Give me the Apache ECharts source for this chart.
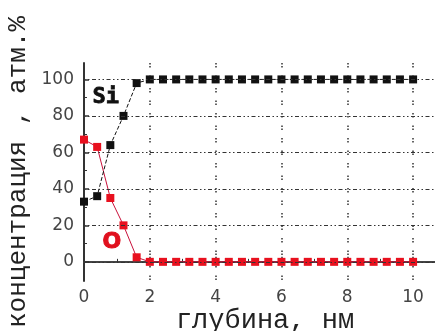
<!DOCTYPE html>
<html>
<head>
<meta charset="utf-8">
<script src="https://cdn.jsdelivr.net/npm/echarts@6/dist/echarts.min.js"></script>
<style>
  html, body { margin: 0; padding: 0; background: #fff; }
  #chart { width: 435px; height: 331px; }
</style>
</head>
<body>
<div id="chart"></div>
<script>
// depth, nm
const depth = [0, 0.4, 0.8, 1.2, 1.6, 2, 2.4, 2.8, 3.2, 3.6, 4, 4.4, 4.8, 5.2, 5.6, 6, 6.4, 6.8, 7.2, 7.6, 8, 8.4, 8.8, 9.2, 9.6, 10];
// concentration, at.%
const si = [33, 36, 64, 80, 98, 100, 100, 100, 100, 100, 100, 100, 100, 100, 100, 100, 100, 100, 100, 100, 100, 100, 100, 100, 100, 100];
const oxy = [67, 63, 35, 20, 2.5, 0, 0, 0, 0, 0, 0, 0, 0, 0, 0, 0, 0, 0, 0, 0, 0, 0, 0, 0, 0, 0];
const yTicks = [0, 20, 40, 60, 80, 100];
const yMinor = [10, 30, 50, 70, 90];

const chart = echarts.init(document.getElementById('chart'));

const gridDash = { color: '#333', width: 1.2, type: [1.5, 2.5, 1.5, 2.5, 4, 2.5] };
const labelFont = { fontFamily: 'DejaVu Sans', fontSize: 17, color: '#444' };

const option = {
    animation: false,
    grid: { left: 84, right: -11, top: 63, bottom: 50, outerBoundsMode: 'none', containLabel: false },
    xAxis: [
        {
            type: 'value',
            min: 0,
            max: 11,
            interval: 2,
            axisLine: { show: true, lineStyle: { color: '#333', width: 2 } },
            axisTick: { inside: true, length: 5, lineStyle: { color: '#333', width: 1.5 } },
            minorTick: { show: true, splitNumber: 2, length: 3, lineStyle: { color: '#333' } },
            axisLabel: { ...labelFont, margin: 8 },
            splitLine: { show: true, lineStyle: { color: '#333', width: 1.5, type: [1.5, 1.5, 1.5, 8] } },
            name: 'глубина, нм',
            nameLocation: 'middle',
            nameGap: 26,
            nameMoveOverlap: false,
            nameTextStyle: { fontFamily: 'Liberation Mono', fontSize: 27, color: '#222', verticalAlign: 'top', lineHeight: 27 }
        },
        {
            type: 'value', position: 'top', min: 0, max: 11,
            axisLine: { show: true, lineStyle: { color: '#444', width: 2 } },
            axisTick: { show: false }, axisLabel: { show: false }, splitLine: { show: false }
        }
    ],
    yAxis: [
        {
            type: 'value',
            min: -10.5,
            max: 109,
            axisLine: { show: true, lineStyle: { color: '#333', width: 2 } },
            axisTick: { inside: true, length: 5, customValues: yTicks, lineStyle: { color: '#333', width: 1.5 } },
            axisLabel: { ...labelFont, margin: 10, customValues: yTicks },
            splitLine: { show: false },
            name: 'концентрация , атм.%',
            nameLocation: 'middle',
            nameGap: 45,
            nameRotate: 90,
            nameTextStyle: { fontFamily: 'Liberation Mono', fontSize: 26, color: '#222' }
        },
        {
            type: 'value', min: -10.5, max: 109, position: 'left',
            axisLine: { show: false },
            axisTick: { inside: true, length: 3, customValues: yMinor, lineStyle: { color: '#333' } },
            axisLabel: { show: false }, splitLine: { show: false }
        }
    ],
    series: [
        {
            name: 'grid',
            type: 'line',
            data: [],
            silent: true,
            markLine: {
                symbol: 'none',
                silent: true,
                label: { show: false },
                lineStyle: gridDash,
                data: yTicks.map(v => ({ yAxis: v }))
            }
        },
        {
            name: 'O',
            type: 'line',
            data: depth.map((d, i) => [d, oxy[i]]),
            symbol: 'rect',
            symbolSize: 8,
            itemStyle: { color: '#e8101e' },
            lineStyle: { color: '#c8103a', width: 1 },
            z: 3
        },
        {
            name: 'Si',
            type: 'line',
            data: depth.map((d, i) => [d, si[i]]),
            symbol: 'rect',
            symbolSize: 8,
            itemStyle: { color: '#111' },
            lineStyle: { color: '#111', width: 1, type: [4, 2] },
            z: 4
        }
    ],
    graphic: [
        {
            type: 'text', left: 92, top: 86,
            style: { text: 'Si', fontFamily: 'DejaVu Sans Mono', fontWeight: 'bold', fontSize: 22, fill: '#111', stroke: '#111', lineWidth: 0.8 }
        },
        {
            type: 'text', left: 102, top: 231,
            style: { text: 'O', fontFamily: 'DejaVu Sans', fontWeight: 'bold', fontSize: 22, fill: '#e0101e', stroke: '#e0101e', lineWidth: 1 }
        }
    ]
};
chart.setOption(option);
</script>
</body>
</html>
